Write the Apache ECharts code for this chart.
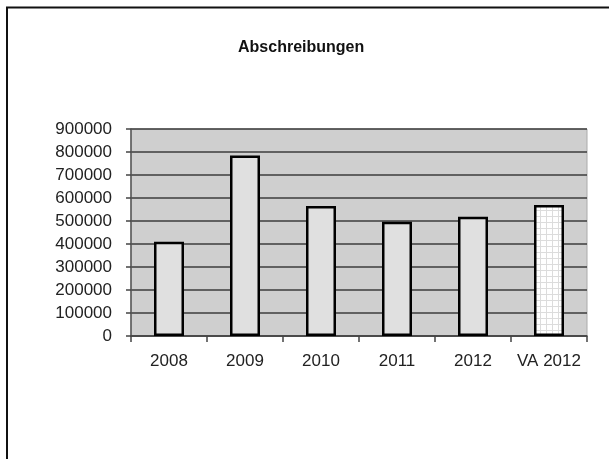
<!DOCTYPE html>
<html>
<head>
<meta charset="utf-8">
<script src="https://cdn.jsdelivr.net/npm/echarts@6/dist/echarts.min.js"></script>
<style>
  html, body { margin: 0; padding: 0; background: #fff; }
  #chart { width: 609px; height: 459px; }
</style>
</head>
<body>
<div id="chart"></div>
<script>
// Depreciation by year, plus the planned (VA) figure for 2012
const categories = ['2008', '2009', '2010', '2011', '2012', 'VA 2012'];
const values = [410000, 785000, 565000, 497000, 519000, 570000];
const yTicks = [0, 100000, 200000, 300000, 400000, 500000, 600000, 700000, 800000, 900000];

// Small grid pattern used for the plan bar
function gridPattern() {
  const c = document.createElement('canvas');
  c.width = 6; c.height = 6;
  const ctx = c.getContext('2d');
  ctx.fillStyle = '#ffffff';
  ctx.fillRect(0, 0, 6, 6);
  ctx.fillStyle = '#dcdcdc';
  ctx.fillRect(0, 0, 6, 1);
  ctx.fillRect(0, 0, 1, 6);
  return c;
}

const chart = echarts.init(document.getElementById('chart'), null, { renderer: 'canvas' });

const barData = values.map((v, i) => {
  if (categories[i].startsWith('VA')) {
    return { value: v, itemStyle: { color: { image: gridPattern(), repeat: 'repeat' } } };
  }
  return v;
});

const font = 'Liberation Sans, Arial, sans-serif';

chart.setOption({
  animation: false,
  backgroundColor: '#ffffff',
  title: {
    text: 'Abschreibungen',
    left: 233,
    top: 35,
    textStyle: { fontFamily: font, fontSize: 16, fontWeight: 'bold', color: '#111' }
  },
  graphic: [
    { type: 'line', shape: { x1: 6, y1: 7.5, x2: 609, y2: 7.5 }, style: { stroke: '#111', lineWidth: 2 } },
    { type: 'line', shape: { x1: 7, y1: 7, x2: 7, y2: 459 }, style: { stroke: '#111', lineWidth: 2 } }
  ],
  grid: {
    left: 131, right: 22, top: 129, bottom: 123,
    show: true,
    backgroundColor: '#cfcfcf',
    borderColor: '#aaaaaa',
    borderWidth: 1
  },
  xAxis: {
    type: 'category',
    data: categories,
    axisLine: { lineStyle: { color: '#444', width: 1.5 } },
    axisTick: { show: true, length: 6, alignWithLabel: false, lineStyle: { color: '#444', width: 1.5 } },
    axisLabel: { interval: 0, margin: 17, fontFamily: font, fontSize: 17, color: '#222' }
  },
  yAxis: {
    type: 'value',
    min: yTicks[0],
    max: yTicks[yTicks.length - 1],
    interval: yTicks[1] - yTicks[0],
    axisLine: { show: true, lineStyle: { color: '#555', width: 1.5 } },
    axisTick: { show: true, length: 5, lineStyle: { color: '#444', width: 1.5 } },
    axisLabel: { margin: 19, fontFamily: font, fontSize: 17, color: '#222', formatter: v => String(v) },
    splitLine: { show: true, lineStyle: { color: '#3c3c3c', width: 1.5 } }
  },
  series: [{
    type: 'bar',
    data: barData,
    barWidth: 30,
    itemStyle: { color: '#e0e0e0', borderColor: '#000', borderWidth: 2.5 }
  }]
});
</script>
</body>
</html>
